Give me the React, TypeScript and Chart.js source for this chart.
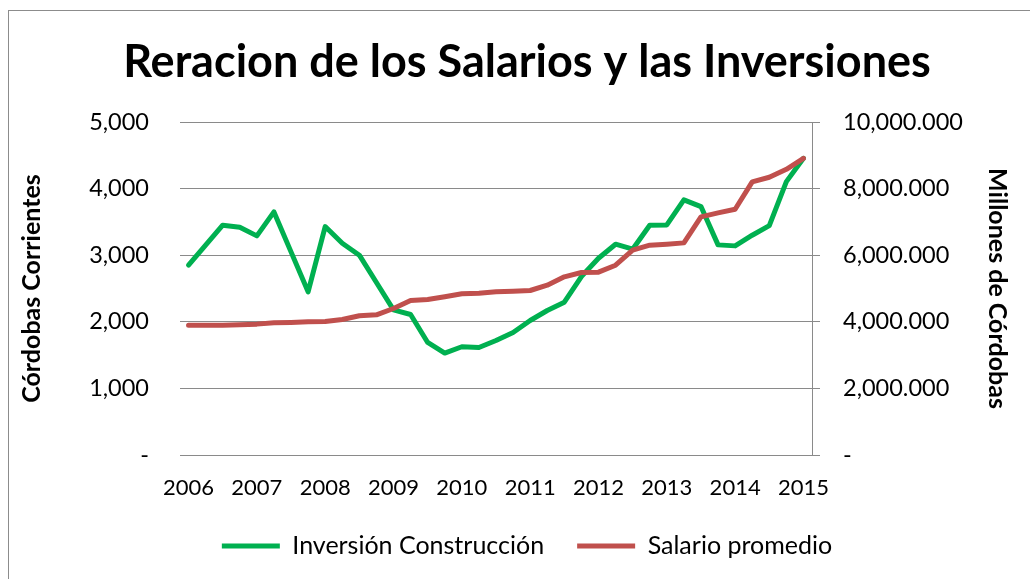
import React, { useEffect, useRef } from "react";
import { Chart, registerables } from "chart.js";

Chart.register(...registerables);

const years = ["2006", "2007", "2008", "2009", "2010", "2011", "2012", "2013", "2014", "2015"];
const quarters = ["T1", "T2", "T3", "T4"];

// Inversión Construcción (right axis, Millones de Córdobas)
const inversion = [
  5700000, 6300000, 6900000, 6840000, 6580000, 7300000, 6100000, 4900000,
  6860000, 6360000, 6000000, 5180000, 4360000, 4220000, 3380000, 3060000,
  3250000, 3230000, 3440000, 3680000, 4040000, 4340000, 4590000, 5360000,
  5910000, 6330000, 6180000, 6900000, 6910000, 7660000, 7460000, 6310000,
  6280000, 6600000, 6890000, 8210000, 8910000,
];

// Salario promedio (left axis, Córdobas Corrientes)
const salario = [
  1950, 1950, 1950, 1955, 1965, 1985, 1990, 2000, 2005, 2035, 2090, 2105,
  2200, 2320, 2335, 2375, 2420, 2430, 2450, 2460, 2470, 2550, 2675, 2740,
  2745, 2850, 3075, 3150, 3165, 3185, 3575, 3635, 3690, 4100, 4170, 4290,
  4455,
];

const labels: string[] = [];
for (let i = 0; i < inversion.length; i++) {
  labels.push(years[Math.floor(i / 4)] + " " + quarters[i % 4]);
}

const FONT = "Lato";
const GRID = "#8a8a8a";

function fmtLeft(v: number) {
  if (v === 0) return "-";
  return v.toLocaleString("en-US");
}
function fmtRight(v: number) {
  if (v === 0) return "-";
  const s = v.toLocaleString("en-US");
  const i = s.lastIndexOf(",");
  return i >= 0 ? s.slice(0, i) + "." + s.slice(i + 1) : s;
}

export default function App() {
  const ref = useRef<HTMLCanvasElement | null>(null);
  useEffect(() => {
    document.body.style.margin = "0";
    const ctx = ref.current!;
    const chart = new Chart(ctx, {
      type: "line",
      data: {
        labels,
        datasets: [
          {
            label: "Inversión Construcción",
            data: inversion,
            yAxisID: "y1",
            borderColor: "#00B050",
            backgroundColor: "#00B050",
            borderWidth: 5,
            pointRadius: 0,
            tension: 0,
            borderCapStyle: "round",
            borderJoinStyle: "round",
            order: 1,
          },
          {
            label: "Salario promedio",
            data: salario,
            yAxisID: "y",
            borderColor: "#C0504D",
            backgroundColor: "#C0504D",
            borderWidth: 5,
            pointRadius: 0,
            tension: 0,
            borderCapStyle: "round",
            borderJoinStyle: "round",
            order: 0,
          },
        ],
      },
      options: {
        responsive: false,
        animation: false,
        layout: { padding: { left: 24, right: 0, top: 0, bottom: 10.5 } },
        plugins: {
          title: {
            display: true,
            text: "Reracion de los Salarios y las Inversiones",
            color: "#000",
            font: { family: FONT, size: 45, weight: "bold" },
            padding: { top: 35, bottom: 33 },
          },
          legend: {
            position: "bottom",
            labels: {
              usePointStyle: true,
              pointStyle: "line",
              pointStyleWidth: 58,
              boxHeight: 25,
              padding: 33,
              color: "#000",
              font: { family: FONT, size: 25 },
              sort: (a: any, b: any) => a.datasetIndex - b.datasetIndex,
            },
          },
          tooltip: { enabled: false },
        },
        scales: {
          x: {
            type: "category",
            offset: true,
            afterFit: (s: any) => {
              s.height = 45.5;
            },
            grid: { display: false, drawTicks: false },
            border: { display: false },
            ticks: {
              autoSkip: false,
              maxRotation: 0,
              minRotation: 0,
              padding: 19.8,
              color: "#000",
              font: { family: FONT, size: 22 },
              callback: (_v: any, i: number) => (i % 4 === 0 ? years[i / 4] : ""),
            },
          },
          y: {
            position: "left",
            min: 0,
            max: 5000,
            afterFit: (s: any) => {
              s.width = 156;
            },
            ticks: {
              stepSize: 1000,
              padding: 31,
              color: "#000",
              font: { family: FONT, size: 23.5 },
              callback: (v: any) => fmtLeft(Number(v)),
            },
            grid: { color: GRID, lineWidth: 1, drawTicks: false },
            border: { display: false },
            title: {
              display: true,
              text: "Córdobas Corrientes",
              color: "#000",
              font: { family: FONT, size: 25, weight: "bold" },
              padding: { top: -7, bottom: 0 },
            },
          },
          y1: {
            position: "right",
            min: 0,
            max: 10000000,
            afterFit: (s: any) => {
              s.width = 218;
            },
            ticks: {
              stepSize: 2000000,
              padding: 23,
              color: "#000",
              font: { family: FONT, size: 23.5 },
              callback: (v: any) => fmtRight(Number(v)),
            },
            grid: {
              drawOnChartArea: false,
              drawTicks: true,
              tickLength: 8,
              color: GRID,
              lineWidth: 1,
            },
            border: { display: true, color: GRID, width: 1 },
            title: {
              display: true,
              text: "Millones de Córdobas",
              color: "#000",
              font: { family: FONT, size: 25, weight: "bold" },
              padding: { top: 18, bottom: 0 },
            },
          },
        },
      },
    });
    return () => chart.destroy();
  }, []);

  return (
    <div style={{ position: "fixed", left: 0, top: 0, width: 1030, height: 579, overflow: "hidden", background: "#fff" }}>
      <div
        style={{
          position: "absolute",
          left: 8,
          top: 10,
          width: 1100,
          height: 700,
          borderLeft: "1px solid #8c8c8c",
          borderTop: "1px solid #8c8c8c",
        }}
      />
      <canvas ref={ref} width={1030} height={579} style={{ position: "absolute", left: 0, top: 0 }} />
    </div>
  );
}
